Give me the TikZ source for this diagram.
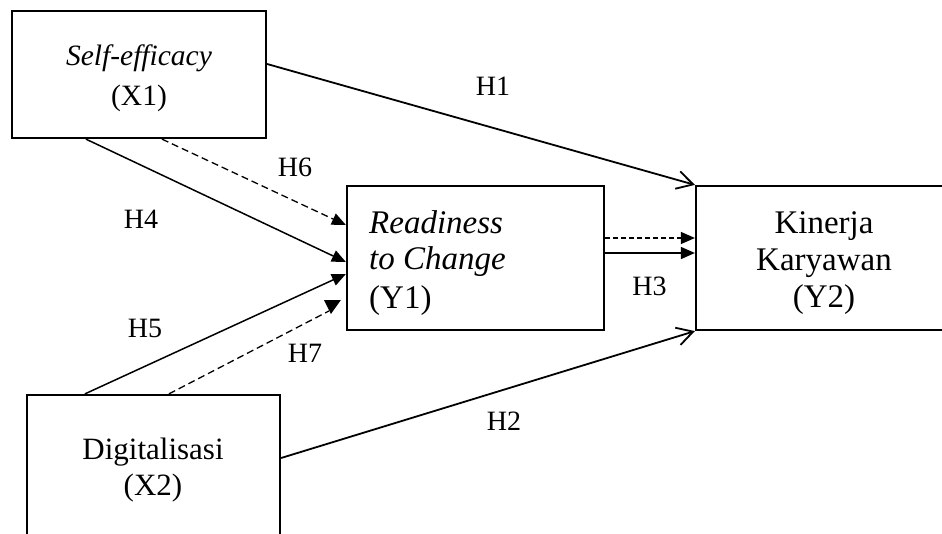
\documentclass[tikz,border=0pt]{standalone}
\usepackage{fontspec}
\setmainfont{Liberation Serif}
\usetikzlibrary{arrows.meta}
\begin{document}
\begin{tikzpicture}[x=1pt,y=-1pt,
  box/.style={draw, line width=2.2pt, inner sep=0pt},
  txt/.style={inner sep=0pt, anchor=base},
  lbl/.style={inner sep=0pt, anchor=base, font=\fontsize{28}{32}\selectfont},
  openarr/.style={line width=1.8pt, -{Straight Barb[length=16pt,width=18pt,line width=1.8pt]}},
  solidtri/.style={line width=1.5pt, -{Triangle[length=14pt,width=12pt]}},
  dashtri/.style={line width=1.3pt, dash pattern=on 7pt off 4pt, -{Triangle[length=14pt,width=12pt]}},
  shortdash/.style={line width=1.2pt, dash pattern=on 5pt off 3pt, -{Triangle[length=14pt,width=12pt]}}
]
\useasboundingbox (0,0) rectangle (942,533);
\clip (0,0) rectangle (942,533);

% boxes
\node[box, minimum width=254pt, minimum height=127pt] (x1) at (139,74.5) {};
\node[box, minimum width=257pt, minimum height=144pt] (y1) at (475.5,258) {};
\node[box, minimum width=256pt, minimum height=144pt] (y2) at (824,258) {};
\node[box, minimum width=253pt, minimum height=144pt] (x2) at (153.5,467) {};

% box texts
\node[txt, font=\fontsize{29.5}{35}\selectfont\itshape] (t1a) at (139,65) {Self-efficacy};
\node[txt, font=\fontsize{29.5}{35}\selectfont] (t1b) at (139,105) {(X1)};

\node[txt, anchor=base west, font=\fontsize{33}{38}\selectfont\itshape] (t2a) at (369,233) {Readiness};
\node[txt, anchor=base west, font=\fontsize{33}{38}\selectfont\itshape] (t2b) at (369,269) {to Change};
\node[txt, anchor=base west, font=\fontsize{33}{38}\selectfont] (t2c) at (369,308) {(Y1)};

\node[txt, font=\fontsize{33}{38}\selectfont] (t3a) at (824,233) {Kinerja};
\node[txt, font=\fontsize{33}{38}\selectfont] (t3b) at (824,270) {Karyawan};
\node[txt, font=\fontsize{33}{38}\selectfont] (t3c) at (824,307) {(Y2)};

\node[txt, font=\fontsize{31}{36}\selectfont] (t4a) at (153,459) {Digitalisasi};
\node[txt, font=\fontsize{31}{36}\selectfont] (t4b) at (153,495) {(X2)};

% connectors
\draw[openarr] ([yshift=10.5pt]x1.east) -- (y2.north west);
\draw[openarr] ([yshift=9pt]x2.east) -- (y2.south west);

\draw[solidtri] ([xshift=75pt]x1.south west) -- ([yshift=-4pt]y1.west);
\draw[dashtri] ([xshift=151pt]x1.south west) -- ([yshift=33pt]y1.west);
\draw[solidtri] ([xshift=59pt]x2.north west) -- ([yshift=-16pt]y1.west);

\coordinate (h7end) at ([xshift=-17pt,yshift=-53pt]y1.west);
\draw[line width=1.3pt, dash pattern=on 7pt off 4pt] ([xshift=143pt]x2.north west) -- (h7end);
\fill ([xshift=-5pt,yshift=11pt]h7end) -- ([xshift=12pt,yshift=11pt]h7end) -- ([xshift=2pt,yshift=-3pt]h7end) -- cycle;

\draw[solidtri] ([yshift=5pt]y1.east) -- ([yshift=5pt]y2.west);
\draw[shortdash] ([yshift=20pt]y1.east) -- ([yshift=20pt]y2.west);

% labels
\node[lbl] (h1) at (493,95) {H1};
\node[lbl] (h6) at (295,176) {H6};
\node[lbl] (h4) at (141,228) {H4};
\node[lbl] (h5) at (145,337) {H5};
\node[lbl] (h7) at (305,362) {H7};
\node[lbl] (h2) at (504,430) {H2};
\node[lbl] (h3) at (649.5,295) {H3};
\end{tikzpicture}
\end{document}
